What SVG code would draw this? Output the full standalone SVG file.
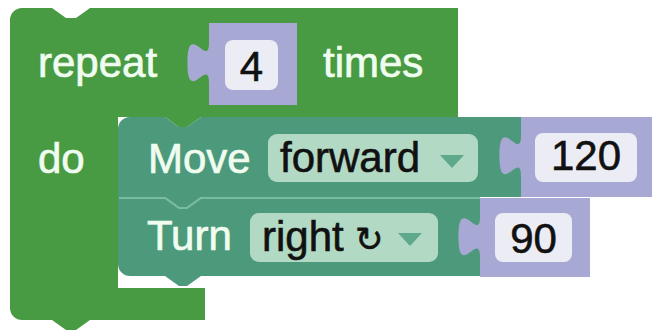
<svg xmlns="http://www.w3.org/2000/svg" width="654" height="335" viewBox="0 0 654 335">
  <style>
    .lbl { font-family: "Liberation Sans", Arial, Helvetica, sans-serif; font-size: 42px; fill: #effcef; stroke: #effcef; stroke-width: 0.7px; }
    .fld { font-family: "Liberation Sans", Arial, Helvetica, sans-serif; font-size: 42px; fill: #111111; stroke: #111111; stroke-width: 0.6px; }
    .loop { fill: #499b43; }
    .motion { fill: #4c997b; }
    .num { fill: #a8a8d4; }
    .numfield { fill: #ececf5; }
    .dd { fill: #b2d9c4; }
    .ddarrow { fill: #5ea88c; }
    .hl { fill: none; stroke: #79bca2; stroke-width: 2; }
  </style>
  <rect width="654" height="335" fill="#ffffff"/>

  <g id="repeat-block">
    <path class="loop" d="M10,20 A12,12 0 0 1 22,8 L52,8 l14,10 l10,0 l14,-10 L458,8 L458,117 L201,117 l-14,10 l-8,0 l-14,-10 L118,117 L118,288 L205,288 L205,320 L90,320 l-14,10 l-10,0 l-14,-10 L22,320 A12,12 0 0 1 10,308 Z"/>
    <text class="lbl" x="38" y="77">repeat</text>
    <text class="lbl" x="323" y="77">times</text>
    <text class="lbl" x="38" y="173">do</text>
  </g>

  <g id="count-block">
    <path class="num" d="M209,23 L297,23 L297,105 L209,105 L209,83 c0,-27 -21.6,23 -21.6,-20.25 s21.6,6.75 21.6,-20.25 Z"/>
    <rect class="numfield" x="225" y="40" width="53" height="50" rx="8"/>
    <text class="fld" x="251.5" y="81" text-anchor="middle">4</text>
  </g>

  <g id="move-block">
    <path class="motion" d="M118,129 A12,12 0 0 1 130,117 L165,117 l14,10 l8,0 l14,-10 L521,117 L521,197 L201,197 l-14,10 l-8,0 l-14,-10 L118,197 Z"/>
    <text class="lbl" x="148" y="173">Move</text>
    <rect class="dd" x="268" y="134" width="210" height="48" rx="9"/>
    <text class="fld" x="280" y="172">forward</text>
    <path class="ddarrow" d="M440,155 L464,155 L452,168 Z"/>
  </g>

  <g id="distance-block">
    <path class="num" d="M521,117 L652,117 L652,197 L521,197 L521,176 c0,-27 -21.6,23 -21.6,-20.25 s21.6,6.75 21.6,-20.25 Z"/>
    <rect class="numfield" x="535" y="133" width="102" height="49" rx="8"/>
    <text class="fld" x="586" y="170" text-anchor="middle">120</text>
  </g>

  <g id="turn-block">
    <path class="motion" d="M118,197 L165,197 l14,10 l8,0 l14,-10 L480,197 L480,276 L201,276 l-14,10 l-8,0 l-14,-10 L130,276 A12,12 0 0 1 118,264 Z"/>
    <path class="hl" d="M119,198 L165,198 l14,10 l8,0 l14,-10 L480,198"/>
    <text class="lbl" x="147" y="250">Turn</text>
    <rect class="dd" x="250" y="213" width="188" height="49" rx="9"/>
    <text class="fld" x="262" y="251">right <tspan font-size="34">↻</tspan></text>
    <path class="ddarrow" d="M398,233 L422,233 L410,246 Z"/>
  </g>

  <g id="angle-block">
    <path class="num" d="M480,198 L590,198 L590,277 L480,277 L480,257 c0,-27 -21.6,23 -21.6,-20.25 s21.6,6.75 21.6,-20.25 Z"/>
    <rect class="numfield" x="495" y="213" width="77" height="49" rx="8"/>
    <text class="fld" x="533.5" y="253" text-anchor="middle">90</text>
  </g>
</svg>
